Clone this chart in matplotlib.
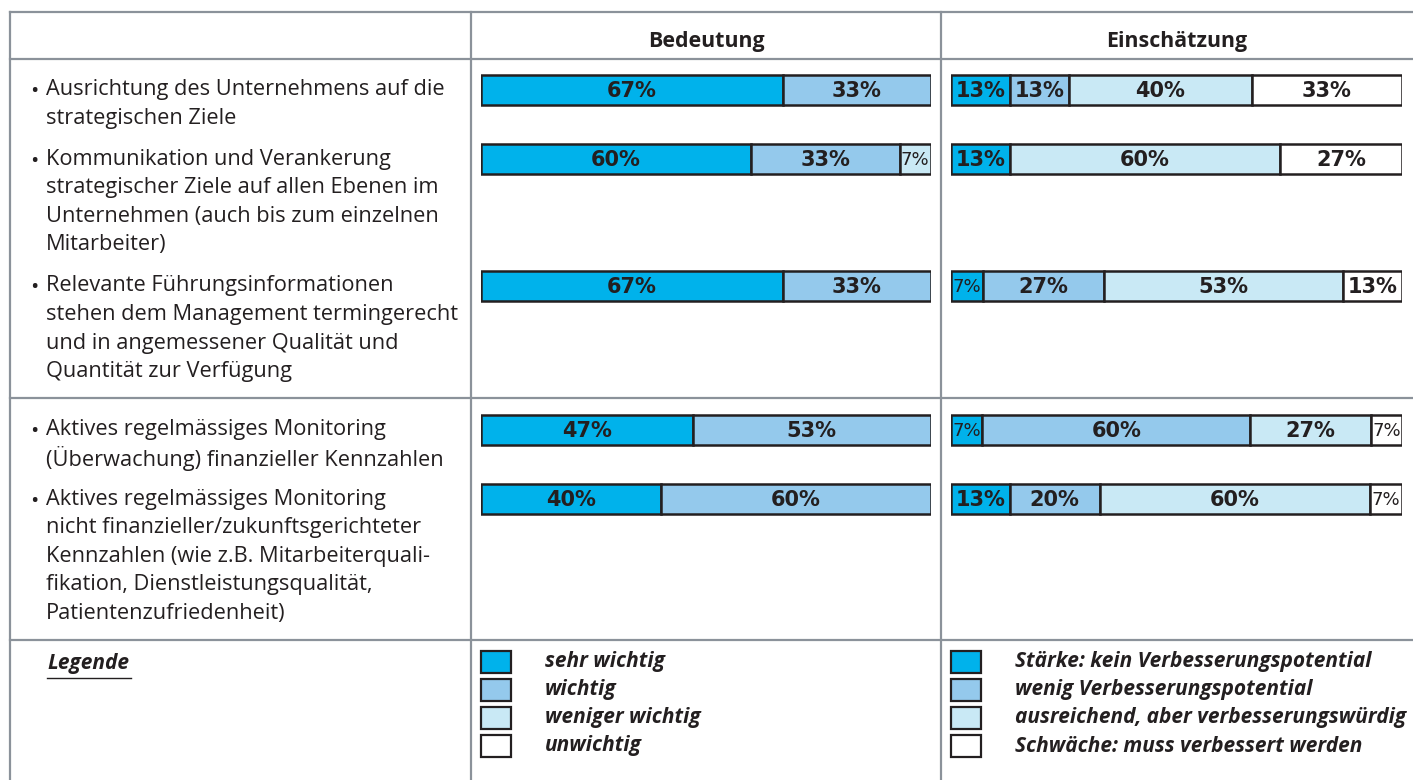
import matplotlib
matplotlib.use("Agg")
import matplotlib.pyplot as plt
from matplotlib.patches import Rectangle

plt.rcParams['font.family'] = ['Open Sans', 'DejaVu Sans']

# ---- data ----
headers = ["Bedeutung", "Einschätzung"]

row_labels = [
    ["Ausrichtung des Unternehmens auf die", "strategischen Ziele"],
    ["Kommunikation und Verankerung", "strategischer Ziele auf allen Ebenen im",
     "Unternehmen (auch bis zum einzelnen", "Mitarbeiter)"],
    ["Relevante Führungsinformationen", "stehen dem Management termingerecht",
     "und in angemessener Qualität und", "Quantität zur Verfügung"],
    ["Aktives regelmässiges Monitoring", "(Überwachung) finanzieller Kennzahlen"],
    ["Aktives regelmässiges Monitoring", "nicht finanzieller/zukunftsgerichteter",
     "Kennzahlen (wie z.B. Mitarbeiterquali-", "fikation, Dienstleistungsqualität,",
     "Patientenzufriedenheit)"],
]

# shares per row: [sehr wichtig, wichtig, weniger wichtig, unwichtig]
bedeutung = [
    [67, 33, 0, 0],
    [60, 33, 7, 0],
    [67, 33, 0, 0],
    [47, 53, 0, 0],
    [40, 60, 0, 0],
]
# [Stärke, wenig Verb., ausreichend, Schwäche]
einschaetzung = [
    [13, 13, 40, 33],
    [13, 0, 60, 27],
    [7, 27, 53, 13],
    [7, 60, 27, 7],
    [13, 20, 60, 7],
]

legend_bed = ["sehr wichtig", "wichtig", "weniger wichtig", "unwichtig"]
legend_ein = ["Stärke: kein Verbesserungspotential", "wenig Verbesserungspotential",
              "ausreichend, aber verbesserungswürdig", "Schwäche: muss verbessert werden"]

colors = ["#00b2eb", "#94c9ec", "#c9e9f5", "#ffffff"]
edge = "#231f20"
grid = "#8b929a"

W, H = 1413, 780
fig = plt.figure(figsize=(W / 100, H / 100), dpi=100)
ax = fig.add_axes([0, 0, 1, 1])
ax.set_xlim(0, W)
ax.set_ylim(H, 0)
ax.axis("off")

# table grid
lw = 1.6
ax.plot([10, W], [12, 12], color=grid, lw=lw)
for y in [59, 398, 640]:
    ax.plot([10, W], [y, y], color=grid, lw=lw)
for x in [10, 471, 941]:
    ax.plot([x, x], [12, H], color=grid, lw=lw)

# headers
ax.text(706, 47, headers[0], ha="center", va="baseline", fontsize=15.4, fontweight="bold", color=edge)
ax.text(1177, 47, headers[1], ha="center", va="baseline", fontsize=15.4, fontweight="bold", color=edge)

# row labels
row_y = [90, 159, 286, 430, 499]
line_h = 28.6
for lines, y0 in zip(row_labels, row_y):
    ax.text(30, y0 + 2, "•", ha="left", va="center", fontsize=16, color=edge)
    for i, t in enumerate(lines):
        ax.text(46, y0 + i * line_h, t, ha="left", va="center", fontsize=15.7, color=edge)


def bar_axes(x0, x1):
    a = fig.add_axes([x0 / W, 0, (x1 - x0) / W, 1])
    a.set_xlim(0, 100)
    a.set_ylim(H, 0)
    a.axis("off")
    return a


def draw_bars(a, data):
    for vals, y in zip(data, row_y):
        tot = sum(vals)
        left = 0
        for v, c in zip(vals, colors):
            if v == 0:
                continue
            w = v * 100 / tot
            a.barh(y, w, left=left, height=30, color=c, edgecolor=edge, linewidth=1.8)
            if v < 10:
                a.text(left + w / 2, y + 1, f"{v}%", ha="center", va="center",
                       fontsize=13, family="DejaVu Sans Condensed", color=edge)
            else:
                a.text(left + w / 2, y + 1, f"{v}%", ha="center", va="center",
                       fontsize=15, fontweight="bold", family="DejaVu Sans", color=edge)
            left += w


ax_b = bar_axes(481, 931)
ax_e = bar_axes(951, 1402)
draw_bars(ax_b, bedeutung)
draw_bars(ax_e, einschaetzung)

# legend
leg_font = dict(family="Open Sans", fontsize=15, fontweight="bold", style="italic", color=edge)
ax.text(47, 663, "Legende", ha="left", va="center", **leg_font)
ax.plot([47, 131], [678, 678], color=edge, lw=1)
leg_y = [662, 690, 718, 746]
for i, y in enumerate(leg_y):
    for bx, tx, labels in [(481, 545, legend_bed), (951, 1015, legend_ein)]:
        ax.add_patch(Rectangle((bx, y - 11), 30, 22, facecolor=colors[i], edgecolor=edge, lw=1.6))
        ax.text(tx, y, labels[i], ha="left", va="center", **leg_font)

fig.savefig("out.png", dpi=100)
